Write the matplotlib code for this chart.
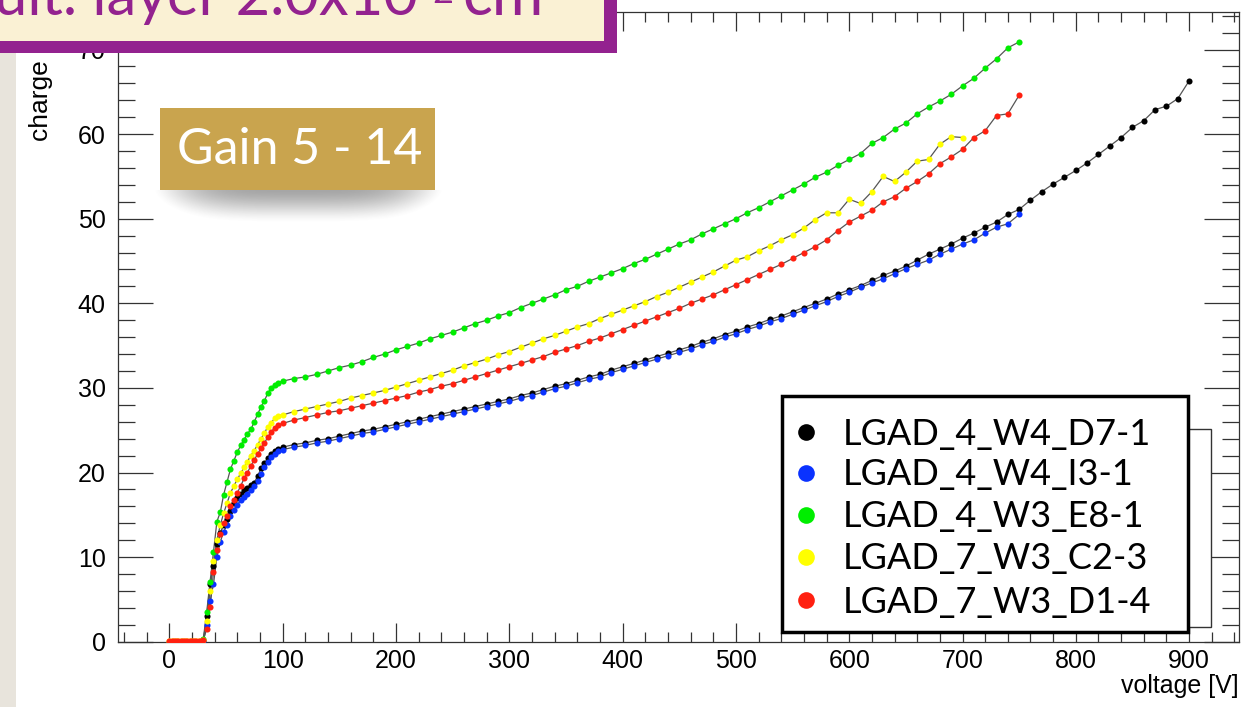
import matplotlib
matplotlib.use("Agg")
import matplotlib.pyplot as plt
import numpy as np
from matplotlib.patches import Rectangle
from matplotlib.lines import Line2D
from matplotlib.ticker import MultipleLocator

# ---- data ----
names = ["LGAD_4_W4_D7-1", "LGAD_4_W4_I3-1", "LGAD_4_W3_E8-1",
         "LGAD_7_W3_C2-3", "LGAD_7_W3_D1-4"]
colors = ["#000000", "#0a32ff", "#00ee00", "#ffff00", "#ff2010"]

flat_v = [0, 2, 4, 6, 8, 10, 12, 14, 16, 18, 20, 22, 24, 26, 28]
rise_v = [30, 33, 36, 39, 42, 45, 48, 51, 54, 57, 60, 63, 66, 69, 72, 75, 78,
          81, 84, 87, 90, 93, 96]
step_v = list(range(100, 910, 10))  # 10 V steps from 100 V

black_rise = [0.1, 3.0, 6.8, 9.0, 11.6, 12.9, 13.8, 14.5, 15.5, 16.4, 17.0, 17.5,
              17.9, 18.2, 18.5, 18.8, 19.6, 20.5, 21.1, 21.7, 22.2, 22.6, 22.8]
black_step = [23.0, 23.3, 23.5, 23.8, 24.0, 24.3, 24.6, 24.9, 25.1, 25.4,
              25.7, 26.0, 26.3, 26.6, 26.9, 27.2, 27.5, 27.8, 28.1, 28.4,
              28.7, 29.1, 29.4, 29.8, 30.2, 30.5, 30.9, 31.3, 31.6, 32.1,
              32.5, 32.9, 33.3, 33.7, 34.1, 34.5, 34.9, 35.4, 35.8, 36.3,
              36.7, 37.2, 37.6, 38.1, 38.5, 39.0, 39.5, 40.0, 40.5, 41.1,
              41.6, 42.1, 42.7, 43.3, 43.8, 44.4, 45.1, 45.8, 46.4, 47.0,
              47.7, 48.3, 49.0, 49.6, 50.5, 51.1, 52.2, 53.2, 54.1, 54.9,
              55.7, 56.6, 57.6, 58.6, 59.6, 60.8, 61.6, 62.9, 63.3, 64.2,
              66.3]

blue_rise = [0.0, 2.0, 4.8, 6.8, 10.0, 11.8, 13.0, 13.8, 14.8, 15.6, 16.2, 16.7,
             17.1, 17.5, 17.9, 18.4, 19.0, 19.8, 20.6, 21.2, 21.8, 22.2, 22.5]
blue_step = [22.7, 23.0, 23.2, 23.5, 23.7, 24.0, 24.3, 24.6, 24.8, 25.1,
             25.4, 25.7, 26.0, 26.3, 26.6, 26.9, 27.2, 27.5, 27.8, 28.1,
             28.4, 28.8, 29.1, 29.5, 29.9, 30.2, 30.6, 31.0, 31.3, 31.8,
             32.2, 32.6, 33.0, 33.4, 33.8, 34.2, 34.6, 35.1, 35.5, 36.0,
             36.4, 36.9, 37.3, 37.8, 38.2, 38.7, 39.2, 39.7, 40.2, 40.8,
             41.3, 41.9, 42.4, 42.9, 43.5, 44.1, 44.6, 45.1, 45.8, 46.4,
             47.0, 47.5, 48.3, 49.0, 49.4, 50.5]

green_rise = [0.3, 3.5, 7.1, 10.6, 14.2, 15.3, 17.4, 18.9, 20.4, 21.4, 22.4, 23.2,
              23.9, 24.6, 25.1, 26.0, 26.9, 27.8, 28.5, 29.4, 30.0, 30.4, 30.6]
green_step = [30.8, 31.1, 31.3, 31.6, 32.0, 32.4, 32.7, 33.1, 33.6, 34.0,
              34.5, 34.9, 35.3, 35.8, 36.2, 36.6, 37.1, 37.6, 38.0, 38.5,
              38.9, 39.5, 40.0, 40.5, 41.0, 41.6, 42.0, 42.6, 43.1, 43.6,
              44.1, 44.7, 45.2, 45.8, 46.4, 47.0, 47.5, 48.2, 48.8, 49.4,
              50.0, 50.7, 51.3, 52.0, 52.7, 53.4, 54.1, 54.9, 55.5, 56.3,
              57.0, 57.7, 58.9, 59.6, 60.6, 61.3, 62.4, 63.2, 63.9, 64.7,
              65.7, 66.6, 67.8, 68.9, 70.2, 70.9]

yellow_flat = [0.1, 0.1, 0.1, 0.1, 0.1, 0.1, 0.1, 0.1, 0.1, 0.1, 0.1, 0.1, 0.1, 0.1, 0.1]
yellow_rise = [0.2, 2.5, 6.0, 9.5, 12.0, 13.8, 15.2, 16.4, 17.6, 18.4, 19.2, 19.9,
               20.6, 21.3, 22.0, 22.6, 23.3, 24.0, 24.7, 25.4, 25.9, 26.4, 26.7]
yellow_step = [26.8, 27.2, 27.5, 27.8, 28.1, 28.4, 28.8, 29.1, 29.4, 29.7,
               30.1, 30.5, 30.9, 31.3, 31.7, 32.1, 32.6, 33.0, 33.4, 33.9,
               34.3, 34.8, 35.3, 35.8, 36.2, 36.7, 37.2, 37.6, 38.2, 38.7,
               39.2, 39.7, 40.2, 40.8, 41.3, 41.9, 42.5, 43.1, 43.7, 44.4,
               45.1, 45.5, 46.2, 46.8, 47.5, 48.1, 48.9, 49.9, 50.7, 50.7,
               52.3, 51.8, 53.2, 55.0, 54.4, 55.5, 56.8, 57.0, 58.8, 59.7,
               59.6]

red_flat = [0.1, 0.1, 0.1, 0.1, 0.1, 0.1, 0.1, 0.1, 0.1, 0.1, 0.1, 0.1, 0.1, 0.1, 0.1]
red_rise = [0.2, 1.5, 4.1, 8.2, 10.8, 12.7, 14.0, 14.9, 16.0, 16.8, 17.6, 18.4,
            19.3, 20.0, 20.8, 21.5, 22.2, 22.9, 23.5, 24.2, 24.8, 25.3, 25.6]
red_step = [25.8, 26.2, 26.5, 26.8, 27.1, 27.3, 27.6, 27.9, 28.2, 28.5,
            28.8, 29.1, 29.5, 29.8, 30.2, 30.5, 30.9, 31.3, 31.7, 32.1,
            32.5, 32.9, 33.3, 33.7, 34.2, 34.6, 35.0, 35.5, 35.9, 36.4,
            36.9, 37.4, 37.9, 38.4, 38.9, 39.4, 40.0, 40.5, 41.0, 41.6,
            42.2, 42.8, 43.4, 44.0, 44.6, 45.3, 46.0, 46.7, 47.5, 48.6,
            49.6, 50.3, 51.0, 52.0, 52.6, 53.6, 54.4, 55.3, 56.5, 57.3,
            58.2, 59.6, 60.4, 62.2, 62.4, 64.6]

series = [
    (rise_v + step_v[:len(black_step)], black_rise + black_step),
    (rise_v + step_v[:len(blue_step)], blue_rise + blue_step),
    (rise_v + step_v[:len(green_step)], green_rise + green_step),
    (flat_v + rise_v + step_v[:len(yellow_step)], yellow_flat + yellow_rise + yellow_step),
    (flat_v + rise_v + step_v[:len(red_step)], red_flat + red_rise + red_step),
]

W, H = 1245, 707


def fx(x):
    return x / W


def fy(y):
    return 1 - y / H


fig = plt.figure(figsize=(W / 100, H / 100), dpi=100)
fig.patch.set_facecolor("white")

# slide background strip at the left
fig.add_artist(Rectangle((0, 0), fx(16), 1, transform=fig.transFigure,
                         facecolor="#e8e4dc", edgecolor="none", zorder=0))

ax = fig.add_axes([fx(118.3), fy(641.7), fx(1239 - 118.3), (641.7 - 12.3) / H])
for (v, q), c in zip(series, colors):
    ax.plot(v, q, color="#555555", lw=0.9, zorder=2)
    ax.plot(v, q, ls="none", marker="o", ms=4.4, mfc=c, mec=c, mew=0, zorder=3)

ax.set_xlim(-45, 944)
ax.set_ylim(0, 74.4)
ax.xaxis.set_major_locator(MultipleLocator(100))
ax.xaxis.set_minor_locator(MultipleLocator(20))
ax.yaxis.set_major_locator(MultipleLocator(10))
ax.yaxis.set_minor_locator(MultipleLocator(2))
ax.tick_params(which="both", direction="in", top=True, right=True,
               width=0.9, color="#333333")
ax.tick_params(axis="x", which="major", length=13.7, pad=5)
ax.tick_params(axis="x", which="minor", length=7.2)
ax.tick_params(axis="y", which="major", length=25, pad=9)
ax.tick_params(axis="y", which="minor", length=12.2)
for lab in ax.get_xticklabels() + ax.get_yticklabels():
    lab.set_fontfamily("Liberation Sans")
    lab.set_fontsize(18)
for sp in ax.spines.values():
    sp.set_linewidth(0.9)
    sp.set_color("#333333")

fig.text(fx(1239), fy(686), "voltage [V]", ha="right", va="center",
         family="Liberation Sans", fontsize=18)
fig.text(fx(41), fy(12), "charge [fC]", ha="center", va="top", rotation=90,
         family="Liberation Sans", fontsize=19)

# box behind the legend
fig.add_artist(Rectangle((fx(1150), fy(627)), fx(1211 - 1150), (627 - 429) / H,
                         transform=fig.transFigure, facecolor="white",
                         edgecolor="#333333", lw=1, zorder=4))
# legend
fig.add_artist(Rectangle((fx(782), fy(632)), fx(1188 - 782), (632 - 396) / H,
                         transform=fig.transFigure, facecolor="white",
                         edgecolor="black", lw=2.5, zorder=5))
row_y = [432, 473, 515, 557, 600]
for name, c, y in zip(names, colors, row_y):
    fig.add_artist(Line2D([fx(806)], [fy(y)], transform=fig.transFigure,
                          marker="o", ms=12, mfc=c, mec=c, mew=0, zorder=6))
    fig.text(fx(843), fy(y + 2), name, ha="left", va="center",
             family="Lato", fontsize=26, zorder=6)

# "Gain" label with its soft shadow
sh_h, sh_w = 32, 290
yy, xx = np.mgrid[0:sh_h, 0:sh_w]
r = (np.abs(xx - sh_w / 2) / (sh_w / 2)) ** 4 + (yy / sh_h) ** 1.5
alpha = np.clip(1 - r, 0, 1) ** 1.5 * 0.5
shadow = np.zeros((sh_h, sh_w, 4))
shadow[..., :3] = 0.3
shadow[..., 3] = alpha
fig.figimage(shadow, xo=153, yo=H - 190 - sh_h, origin="upper", zorder=6)
fig.add_artist(Rectangle((fx(160), fy(190)), fx(435 - 160), (190 - 108) / H,
                         transform=fig.transFigure, facecolor="#c9a44e",
                         edgecolor="none", zorder=7))
fig.text(fx(300), fy(150), "Gain 5 - 14", ha="center", va="center",
         family="Lato", fontsize=36, color="white", zorder=8)

# purple title box at the top left (cut by the picture edge)
fig.add_artist(Rectangle((fx(-20), fy(53)), fx(617 + 20), 73 / H,
                         transform=fig.transFigure, facecolor="#93228f",
                         edgecolor="none", zorder=9))
fig.add_artist(Rectangle((fx(-20), fy(41)), fx(604 + 20), 61 / H,
                         transform=fig.transFigure, facecolor="#faf1d4",
                         edgecolor="none", zorder=10))
fig.text(fx(418), fy(15), "ult. layer 2.0x10", ha="right", va="baseline",
         family="Lato", fontsize=43, color="#93228f", zorder=11)
fig.text(fx(432), fy(3), "2", ha="left", va="baseline",
         family="Lato", fontsize=26, color="#93228f", zorder=11)
fig.text(fx(462), fy(15), "cm", ha="left", va="baseline",
         family="Lato", fontsize=45, color="#93228f", zorder=11)

fig.savefig("out.png", dpi=100)
